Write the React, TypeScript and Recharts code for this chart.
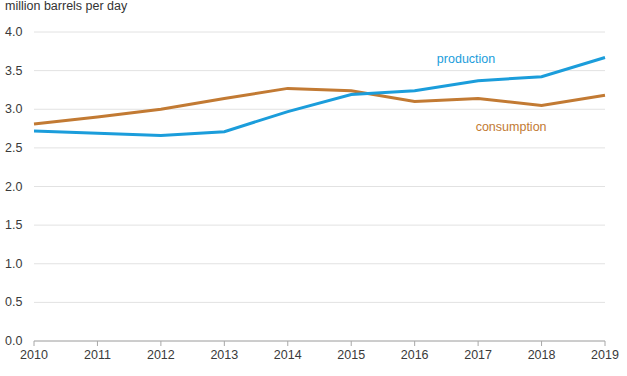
import { LineChart, Line, XAxis, YAxis, CartesianGrid, ReferenceDot } from 'recharts'

const years = [2010, 2011, 2012, 2013, 2014, 2015, 2016, 2017, 2018, 2019]
const production = [2.72, 2.69, 2.66, 2.71, 2.97, 3.19, 3.24, 3.37, 3.42, 3.67]
const consumption = [2.81, 2.9, 3.0, 3.14, 3.27, 3.24, 3.1, 3.14, 3.05, 3.18]
const yTicks = [0, 0.5, 1, 1.5, 2, 2.5, 3, 3.5, 4]

const data = years.map((year, i) => ({
  year,
  production: production[i],
  consumption: consumption[i],
}))

const font = '"Liberation Sans", Arial, sans-serif'
const blue = '#1b9ddb'
const brown = '#c27a33'

function YTick({ y, payload }: any) {
  return (
    <text x={5} y={y} dy={4} textAnchor="start" fill="#3a3a3a" fontSize={12.5} fontFamily={font}>
      {payload.value.toFixed(1)}
    </text>
  )
}

export default function App() {
  return (
    <div style={{ position: 'absolute', left: 0, top: 0, width: 627, height: 376, background: '#fff' }}>
      <div
        style={{
          position: 'absolute',
          left: 5,
          top: -1,
          fontFamily: font,
          fontSize: 12.5,
          lineHeight: '14px',
          color: '#333',
        }}
      >
        million barrels per day
      </div>
      <LineChart width={627} height={376} data={data} margin={{ top: 32, right: 22, left: 0, bottom: 0 }}>
        <CartesianGrid vertical={false} stroke="#e2e2e2" />
        <XAxis
          dataKey="year"
          type="number"
          domain={[2010, 2019]}
          ticks={years}
          height={35}
          stroke="#a8a8a8"
          tickSize={5}
          tickMargin={4}
          tick={{ fill: '#3a3a3a', fontSize: 12.5, fontFamily: font }}
        />
        <YAxis
          domain={[0, 4]}
          ticks={yTicks}
          width={34}
          axisLine={false}
          tickLine={false}
          tick={<YTick />}
        />
        <Line
          dataKey="consumption"
          stroke={brown}
          strokeWidth={3}
          dot={false}
          isAnimationActive={false}
        />
        <Line
          dataKey="production"
          stroke={blue}
          strokeWidth={3}
          dot={false}
          isAnimationActive={false}
        />
        <ReferenceDot
          x={2016.81}
          y={3.66}
          r={0}
          stroke="none"
          label={{ value: 'production', fill: blue, fontSize: 12.5, fontFamily: font, position: 'center' }}
        />
        <ReferenceDot
          x={2017.52}
          y={2.78}
          r={0}
          stroke="none"
          label={{ value: 'consumption', fill: brown, fontSize: 12.5, fontFamily: font, position: 'center' }}
        />
      </LineChart>
    </div>
  )
}
